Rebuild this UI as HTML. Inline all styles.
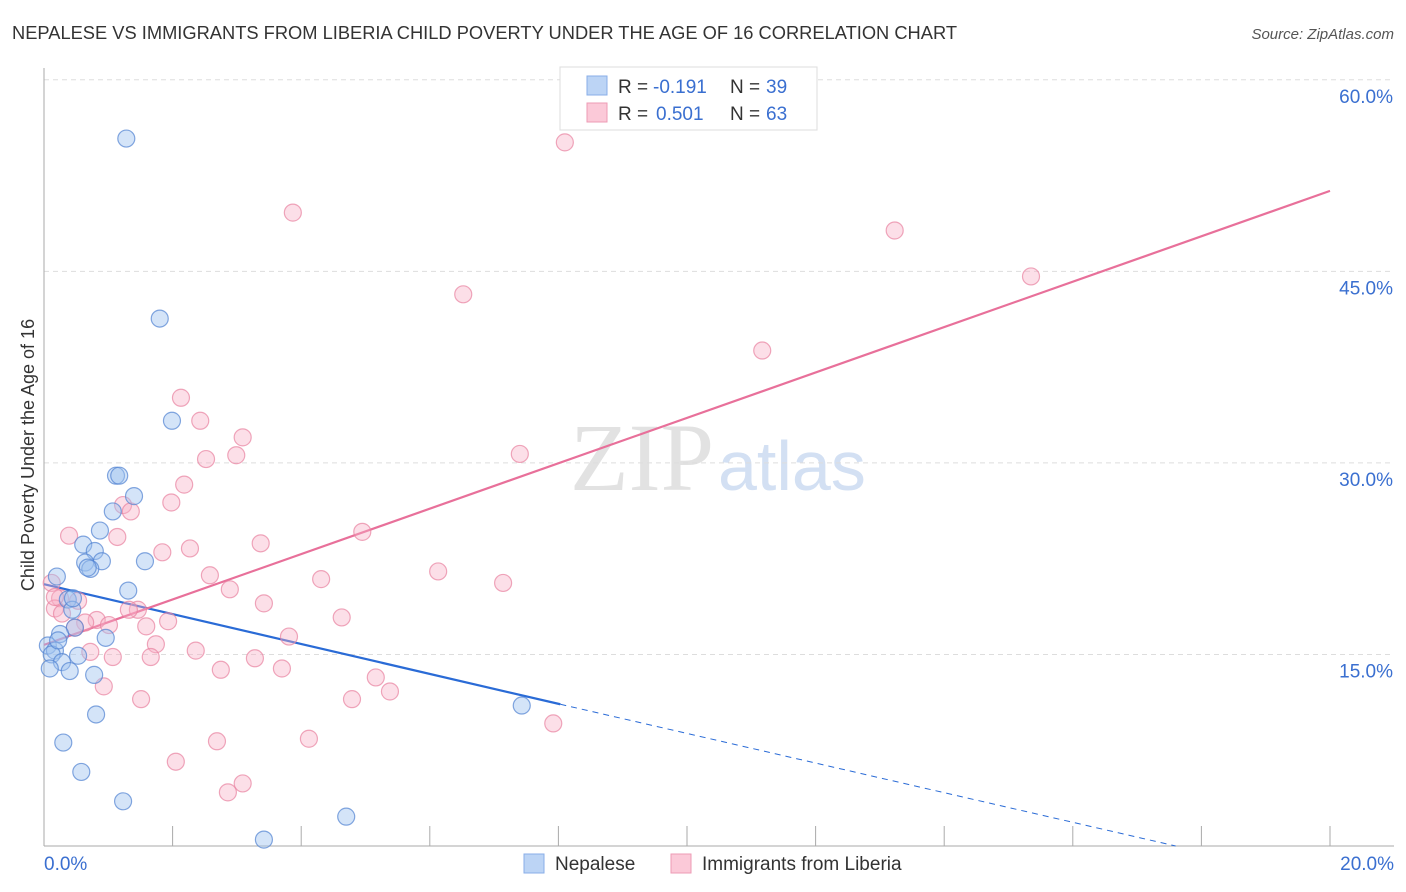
<!DOCTYPE html>
<html><head><meta charset="utf-8"><style>
body{margin:0;background:#fff;font-family:"Liberation Sans",sans-serif}
svg{display:block}
</style></head><body>
<svg id="chart" width="1406" height="892">
<text x="12" y="39" font-size="18" fill="#333" textLength="945" lengthAdjust="spacingAndGlyphs">NEPALESE VS IMMIGRANTS FROM LIBERIA CHILD POVERTY UNDER THE AGE OF 16 CORRELATION CHART</text>
<text x="1394" y="39" font-size="15" fill="#555" font-style="italic" text-anchor="end">Source: ZipAtlas.com</text>
<text x="714" y="490" font-size="96" fill="#e2e2e2" text-anchor="end" font-family="Liberation Serif">ZIP</text>
<text x="718" y="490" font-size="70" fill="#d3e0f3">atlas</text>
<g id="grid"></g><g id="axes"></g><g id="lines"></g><g id="pts"></g>
<text transform="translate(34,455) rotate(-90)" font-size="18" fill="#333" text-anchor="middle">Child Poverty Under the Age of 16</text>
<g>
<rect x="560" y="67" width="257" height="63" fill="#fff" stroke="#ddd"/>
<rect x="587" y="76" width="20" height="19" fill="#bcd4f5" stroke="#88aee8"/>
<rect x="587" y="103" width="20" height="19" fill="#fbc9d8" stroke="#ee9bb5"/>
<text x="618" y="93" font-size="19" fill="#333">R =</text>
<text x="653" y="93" font-size="19" fill="#3a6fd0">-0.191</text>
<text x="730" y="93" font-size="19" fill="#333">N =</text>
<text x="766" y="93" font-size="19" fill="#3a6fd0">39</text>
<text x="618" y="120" font-size="19" fill="#333">R =</text>
<text x="656" y="120" font-size="19" fill="#3a6fd0">0.501</text>
<text x="730" y="120" font-size="19" fill="#333">N =</text>
<text x="766" y="120" font-size="19" fill="#3a6fd0">63</text>
</g>
<g>
<rect x="524" y="854" width="20" height="19" fill="#bcd4f5" stroke="#88aee8"/>
<text x="555" y="870" font-size="19" fill="#333">Nepalese</text>
<rect x="671" y="854" width="20" height="19" fill="#fbc9d8" stroke="#ee9bb5"/>
<text x="702" y="870" font-size="19" fill="#333">Immigrants from Liberia</text>
</g>
</svg>
<script>
const yTicks=[15,30,45,60];
const yTickLabels=["15.0%","30.0%","45.0%","60.0%"];
const xTickLabels=["0.0%","20.0%"];
const blueX=[1.28,1.80,1.99,1.12,1.17,1.40,1.07,0.87,0.61,0.79,0.90,0.64,0.72,1.57,1.31,0.20,0.37,0.44,0.48,0.25,0.96,0.06,0.17,0.12,0.28,0.53,0.40,0.09,0.78,0.81,0.30,0.58,1.23,4.70,3.42,7.43,0.68,0.45,0.22];
const blueY=[55.4,41.3,33.3,29.0,29.0,27.4,26.2,24.7,23.6,23.1,22.3,22.2,21.7,22.3,20.0,21.1,19.3,18.5,17.1,16.6,16.3,15.7,15.3,15.0,14.4,14.9,13.7,13.9,13.4,10.3,8.1,5.8,3.5,2.3,0.5,11.0,21.8,19.4,16.1];
const pinkX=[8.10,3.87,13.23,15.35,6.52,11.17,2.13,2.43,3.09,2.52,2.99,7.40,2.18,1.98,1.23,1.35,0.39,1.14,4.95,3.37,2.27,1.84,2.58,4.31,6.13,7.14,2.89,0.12,3.42,0.53,0.25,0.17,0.28,1.46,1.32,0.82,1.01,1.59,0.64,1.93,4.63,3.81,1.74,0.72,2.36,1.07,1.66,3.28,2.75,3.70,5.16,5.38,0.93,1.51,4.79,7.92,2.05,2.69,4.12,3.09,2.86,0.48,0.17];
const pinkY=[55.1,49.6,48.2,44.6,43.2,38.8,35.1,33.3,32.0,30.3,30.6,30.7,28.3,26.9,26.7,26.2,24.3,24.2,24.6,23.7,23.3,23.0,21.2,20.9,21.5,20.6,20.1,20.6,19.0,19.2,19.4,18.6,18.2,18.5,18.5,17.7,17.3,17.2,17.5,17.6,17.9,16.4,15.8,15.2,15.3,14.8,14.8,14.7,13.8,13.9,13.2,12.1,12.5,11.5,11.5,9.6,6.6,8.2,8.4,4.9,4.2,17.1,19.5];
const blueTrend=[20.5,11.1,8.03,17.6];
const pinkTrend=[15.75,51.3];
const NS="http://www.w3.org/2000/svg";
const X=v=>44+v*64.3, Y=v=>846-v*12.77;
function mk(p,t,a){const e=document.createElementNS(NS,t);for(const k in a)e.setAttribute(k,a[k]);document.getElementById(p).appendChild(e);return e;}
yTicks.forEach((t,i)=>{
  const g=mk('grid','line',{x1:44,x2:1394,y1:Y(t),y2:Y(t),stroke:'#ddd','stroke-dasharray':'5,4'});
  
  
  const l=mk('grid','text',{x:1393,y:Y(t)+23,'font-size':19,fill:'#3a6fd0','text-anchor':'end'});
  l.textContent=yTickLabels[i];
  
  
});
let ax=mk('axes','line',{x1:44,x2:44,y1:68,y2:846,stroke:'#aaa'});


ax=mk('axes','line',{x1:44,x2:1394,y1:846,y2:846,stroke:'#aaa'});


for(let i=1;i<=10;i++){const t=mk('axes','line',{x1:X(i*2),x2:X(i*2),y1:826,y2:846,stroke:'#aaa'});
  
  }
[[0,'start',44],[20,'end',1394]].forEach((d,i)=>{const l=mk('axes','text',{x:d[2],y:870,'font-size':19,fill:'#3a6fd0','text-anchor':d[1]});l.textContent=xTickLabels[i];
  
  });
function pts(xs,ys,fill,stroke,name){xs.forEach((x,i)=>{const c=mk('pts','circle',{cx:X(x),cy:Y(ys[i]),r:8.5,fill:fill,stroke:stroke,'stroke-width':1.2});
  
  });}
pts(pinkX,pinkY,'rgba(248,176,198,0.4)','rgba(232,130,160,0.7)','liberia-point');
pts(blueX,blueY,'rgba(160,196,240,0.45)','rgba(80,130,210,0.7)','nepalese-point');
let tl=mk('lines','line',{x1:X(0),y1:Y(blueTrend[0]),x2:X(blueTrend[2]),y2:Y(blueTrend[1]),stroke:'#2a6bd6','stroke-width':2.2});


tl=mk('lines','line',{x1:X(blueTrend[2]),y1:Y(blueTrend[1]),x2:X(blueTrend[3]),y2:Y(0),stroke:'#2a6bd6','stroke-width':1,'stroke-dasharray':'6,5'});


tl=mk('lines','line',{x1:X(0),y1:Y(pinkTrend[0]),x2:X(20),y2:Y(pinkTrend[1]),stroke:'#e8709a','stroke-width':2.2});


</script>
</body></html>
